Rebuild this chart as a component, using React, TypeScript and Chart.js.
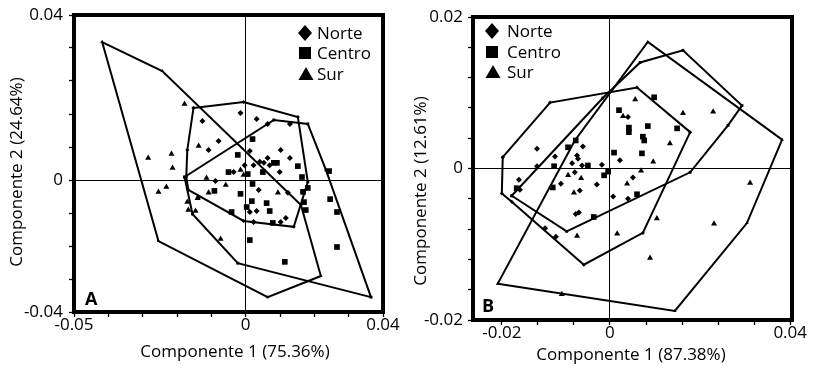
import React, { useEffect, useRef } from 'react';
import { Chart, registerables } from 'chart.js';

Chart.register(...registerables);

type Pt = [number, number];

// ---------------- Panel A data ----------------
const norteA: Pt[] = [
  [-0.0126, 0.0179], [-0.0015, 0.0203], [0.0032, 0.0185], [-0.0079, 0.0118], [-0.0108, 0.0091],
  [0.0012, 0.0088], [0.0064, 0.0067], [0.0102, 0.0091], [0.0129, 0.0067], [0.0064, 0.017],
  [0.0129, 0.017], [-0.0088, -0.0003], [-0.0035, 0.0024], [0.0023, 0.0045], [0.0041, 0.0055],
  [0.0099, 0.0024], [0.0038, -0.003], [0.0032, -0.0094], [0.0012, -0.0097], [0.0102, -0.0127],
  [0.0117, -0.0115], [0.0023, -0.0127], [0.0053, 0.0052], [0.007, 0.0045], [0.0123, -0.0039],
  [-0.0137, -0.0052], [-0.0003, 0.0045],
];
const centroA: Pt[] = [
  [0.002, 0.0124], [-0.0023, 0.0076], [-0.005, 0.0024], [0.0006, 0.0018], [0.005, 0.0024],
  [0.0082, 0.0052], [0.0091, 0.0052], [0.0152, 0.0042], [0.0164, 0.0009], [0.0181, -0.0024],
  [0.0167, -0.0036], [0.017, -0.0067], [0.0175, -0.0091], [0.0243, 0.0027], [0.0246, -0.0058],
  [0.0266, -0.0097], [0.0266, -0.0203], [0.002, -0.0012], [-0.0015, -0.0042], [0.0003, -0.0082],
  [0.0018, -0.0064], [0.0061, -0.007], [0.007, -0.0094], [-0.0041, -0.0097], [0.0012, -0.0182],
  [0.0114, -0.0248], [0.0079, -0.013], [-0.0091, -0.0033],
];
const surA: Pt[] = [
  [-0.0178, 0.023], [-0.0137, 0.0103], [-0.0216, 0.0079], [-0.0284, 0.0067], [-0.0213, 0.0036],
  [-0.0254, -0.0036], [-0.0231, -0.0021], [-0.017, -0.0067], [-0.0167, -0.0091], [-0.0146, -0.0094],
  [-0.0114, 0.0006], [-0.0058, -0.0015], [-0.0015, 0.003], [-0.0006, 0.0015], [0.0094, -0.0039],
  [-0.0073, -0.0179], [-0.014, -0.0055], [-0.0108, -0.0039],
];
const norteHullA: Pt[] = [
  [-0.0152, 0.0218], [-0.0006, 0.0236], [0.0152, 0.0191], [0.0181, -0.0006], [0.014, -0.0142],
  [-0.0006, -0.0124], [-0.0167, -0.003], [-0.0173, 0.0009], [-0.017, 0.0091],
];
const centroHullA: Pt[] = [
  [-0.0178, 0.0009], [0.0082, 0.0182], [0.0181, 0.017], [0.0234, 0.003], [0.0365, -0.0355],
  [-0.0023, -0.0252], [-0.0155, -0.0103],
];
const surHullA: Pt[] = [
  [-0.0418, 0.0418], [-0.0243, 0.033], [0.0161, -0.0076], [0.0219, -0.0291], [0.0064, -0.0355],
  [-0.0254, -0.0185],
];
const xTicksA = [-0.05, -0.04, -0.03, -0.02, -0.01, 0, 0.01, 0.02, 0.03, 0.04];
const xTickLabelsA = ['-0.05', '', '', '', '', '0', '', '', '', '0.04'];
const yTicksA = [-0.04, -0.03, -0.02, -0.01, 0, 0.01, 0.02, 0.03, 0.04, 0.05];
const yTickLabelsA = ['-0.04', '', '', '', '0', '', '', '', '', '0.04'];

// ---------------- Panel B data ----------------
const norteB: Pt[] = [
  [0.004, 0.0068], [-0.0162, 0.0026], [-0.006, 0.0029], [-0.0122, 0.0016], [-0.0073, 0.0017],
  [-0.0071, 0.0013], [-0.0084, 0.0007], [-0.0062, 0.0004], [-0.0078, -0.0005], [-0.0018, 0.0005],
  [0.0022, 0.0011], [0.0051, -0.0012], [0.0007, -0.0037], [0.004, -0.004], [-0.0029, -0.0021],
  [-0.0067, -0.0029], [-0.0109, -0.002], [-0.0076, -0.006], [-0.0069, -0.0058], [-0.0144, -0.0079],
  [-0.012, -0.009], [-0.02, -0.0028], [-0.0202, -0.0015], [-0.0162, 0.0003],
];
const centroB: Pt[] = [
  [0.0098, 0.0094], [0.002, 0.0077], [0.0042, 0.0054], [0.0042, 0.0048], [0.0084, 0.0056],
  [0.0149, 0.0053], [0.0073, 0.0042], [0.0076, 0.0037], [-0.0093, 0.0028], [-0.0076, 0.0037],
  [0.0009, 0.0021], [0.0071, 0.002], [-0.0124, 0.0003], [-0.0049, 0.0004], [-0.0004, -0.0004],
  [-0.0013, -0.0009], [-0.0127, -0.0025], [-0.0207, -0.0026], [-0.0036, -0.0064], [0.006, -0.0034],
];
const surB: Pt[] = [
  [0.0056, 0.0091], [0.0162, 0.0073], [0.0229, 0.0075], [0.0133, 0.0033], [0.0029, 0.0069],
  [-0.0093, -0.0009], [-0.0064, -0.0013], [-0.008, -0.0032], [0.0038, -0.002], [0.0069, -0.0003],
  [0.0096, 0.0009], [0.0104, -0.0066], [0.0231, -0.0073], [0.0311, -0.0019], [0.0089, -0.0118],
  [0.0016, -0.0086], [-0.0073, -0.0089], [-0.0107, -0.0166],
];
const norteHullB: Pt[] = [
  [-0.0238, 0.0015], [-0.0133, 0.0087], [0.006, 0.0107], [0.0178, 0.0048], [0.0073, -0.0085],
  [-0.0058, -0.0127], [-0.0218, -0.0044], [-0.024, -0.0033],
];
const centroHullB: Pt[] = [
  [-0.0218, -0.0036], [-0.0016, 0.0093], [0.0067, 0.014], [0.0162, 0.0156], [0.0293, 0.0083],
  [0.0262, 0.0057], [0.0178, -0.0005], [-0.0096, -0.0083],
];
const surHullB: Pt[] = [
  [-0.0249, -0.0152], [-0.0078, 0.0037], [0.0084, 0.0167], [0.0382, 0.0038], [0.0304, -0.0072],
  [0.0144, -0.0188],
];
const xTicksB = [-0.024, -0.016, -0.008, 0, 0.008, 0.016, 0.024, 0.032, 0.04];
const xTickLabelsB = ['-0.02', '', '', '0', '', '', '', '', '0.04'];
const yTicksB = [-0.02, -0.016, -0.012, -0.008, -0.004, 0, 0.004, 0.008, 0.012, 0.016, 0.02];
const yTickLabelsB = ['-0.02', '', '', '', '', '0', '', '', '', '', '0.02'];

const legendNames = ['Norte', 'Centro', 'Sur'];
const FONT = "'Open Sans', sans-serif";

interface Spec {
  data: { norte: Pt[]; centro: Pt[]; sur: Pt[]; norteHull: Pt[]; centroHull: Pt[]; surHull: Pt[] };
  xMin: number; xMax: number; yMin: number; yMax: number;
  xTicks: number[]; xLabels: string[]; yTicks: number[]; yLabels: string[];
  xTitle: string; yTitle: string; letter: string;
  width: number; left: number;
  padding: { top: number; right: number; left: number; bottom: number };
  yAxisWidth: number; xAxisHeight: number; yTickPad: number;
  legend: { mx: number; tx: number; rows: number[] };
  letterPos: [number, number];
  xTitlePos: [number, number];
  yTitlePos: [number, number];
}

const specA: Spec = {
  data: { norte: norteA, centro: centroA, sur: surA, norteHull: norteHullA, centroHull: centroHullA, surHull: surHullA },
  xMin: -0.05, xMax: 0.04, yMin: -0.04, yMax: 0.05,
  xTicks: xTicksA, xLabels: xTickLabelsA, yTicks: yTicksA, yLabels: yTickLabelsA,
  xTitle: 'Componente 1 (75.36%)', yTitle: 'Componente 2 (24.64%)', letter: 'A',
  width: 410, left: 0,
  padding: { top: 15, right: 27, left: 0, bottom: 0 },
  yAxisWidth: 74, xAxisHeight: 63, yTickPad: 6,
  legend: { mx: 305, tx: 317, rows: [33, 53, 74] },
  letterPos: [85, 305],
  xTitlePos: [235, 352],
  yTitlePos: [17, 172],
};

const specB: Spec = {
  data: { norte: norteB, centro: centroB, sur: surB, norteHull: norteHullB, centroHull: centroHullB, surHull: surHullB },
  xMin: -0.0304, xMax: 0.0404, yMin: -0.02, yMax: 0.02,
  xTicks: xTicksB, xLabels: xTickLabelsB, yTicks: yTicksB, yLabels: yTickLabelsB,
  xTitle: 'Componente 1 (87.38%)', yTitle: 'Componente 2 (12.61%)', letter: 'B',
  width: 415, left: 410,
  padding: { top: 17, right: 33, left: 0, bottom: 0 },
  yAxisWidth: 63, xAxisHeight: 55, yTickPad: 5,
  legend: { mx: 82, tx: 97, rows: [31, 52, 72] },
  letterPos: [72, 312],
  xTitlePos: [221, 355],
  yTitlePos: [11, 191],
};

const toXY = (a: Pt[]) => a.map(([x, y]) => ({ x, y }));
const closed = (a: Pt[]) => toXY([...a, a[0]]);

function decorPlugin(s: Spec) {
  return {
    id: 'decor' + s.letter,
    afterDraw(chart: any) {
      const { ctx, chartArea: a } = chart;
      ctx.save();
      ctx.strokeStyle = '#000';
      ctx.lineWidth = 4;
      ctx.strokeRect(a.left, a.top, a.right - a.left, a.bottom - a.top);
      ctx.fillStyle = '#000';
      // legend
      const { mx, tx, rows } = s.legend;
      ctx.beginPath();
      ctx.moveTo(mx, rows[0] - 8);
      ctx.lineTo(mx + 7, rows[0]);
      ctx.lineTo(mx, rows[0] + 8);
      ctx.lineTo(mx - 7, rows[0]);
      ctx.closePath();
      ctx.fill();
      ctx.fillRect(mx - 6, rows[1] - 6, 12, 12);
      ctx.beginPath();
      ctx.moveTo(mx + 1, rows[2] - 7);
      ctx.lineTo(mx + 8.5, rows[2] + 6);
      ctx.lineTo(mx - 6.5, rows[2] + 6);
      ctx.closePath();
      ctx.fill();
      ctx.font = `17px ${FONT}`;
      ctx.textAlign = 'left';
      ctx.textBaseline = 'alphabetic';
      legendNames.forEach((n, i) => ctx.fillText(n, tx, rows[i] + 6));
      // panel letter
      ctx.font = `bold 18px ${FONT}`;
      ctx.fillText(s.letter, s.letterPos[0], s.letterPos[1]);
      // axis titles
      ctx.font = `17px ${FONT}`;
      ctx.textAlign = 'center';
      ctx.textBaseline = 'middle';
      ctx.fillText(s.xTitle, s.xTitlePos[0], s.xTitlePos[1]);
      ctx.translate(s.yTitlePos[0], s.yTitlePos[1]);
      ctx.rotate(-Math.PI / 2);
      ctx.fillText(s.yTitle, 0, 0);
      ctx.restore();
    },
  };
}

function buildConfig(s: Spec): any {
  const pointDs = (d: Pt[], style: string, r: number) => ({
    data: toXY(d), pointStyle: style, pointRadius: r, backgroundColor: '#000', borderWidth: 0, showLine: false,
  });
  const hullDs = (d: Pt[], style: string) => ({
    data: closed(d), showLine: true, borderColor: '#000', borderWidth: 2, tension: 0, fill: false,
    pointStyle: style, pointRadius: 2, pointBackgroundColor: '#000', pointBorderWidth: 0,
  });
  const gridColor = (c: any) => (c.tick && Math.abs(c.tick.value) < 1e-9 ? '#000' : 'rgba(0,0,0,0)');
  const tickFont = { family: FONT, size: 17, lineHeight: 1 };
  return {
    type: 'scatter',
    data: {
      datasets: [
        pointDs(s.data.norte, 'rectRot', 3),
        pointDs(s.data.centro, 'rect', 4),
        pointDs(s.data.sur, 'triangle', 3.5),
        hullDs(s.data.norteHull, 'rectRot'),
        hullDs(s.data.centroHull, 'rect'),
        hullDs(s.data.surHull, 'triangle'),
      ],
    },
    options: {
      responsive: false,
      animation: false,
      events: [],
      layout: { padding: s.padding },
      plugins: { legend: { display: false }, tooltip: { enabled: false } },
      scales: {
        x: {
          type: 'linear', min: s.xMin, max: s.xMax,
          afterBuildTicks: (ax: any) => { ax.ticks = s.xTicks.map((v) => ({ value: v })); },
          afterFit: (ax: any) => { ax.height = s.xAxisHeight; },
          ticks: {
            autoSkip: false, maxRotation: 0, minRotation: 0, padding: 0, color: '#000', font: tickFont,
            callback: (_v: any, i: number) => s.xLabels[i] ?? '',
          },
          grid: { color: gridColor, lineWidth: 1, tickLength: 5, tickColor: '#000', tickWidth: 1.3, drawTicks: true },
          border: { display: false },
        },
        y: {
          type: 'linear', min: s.yMin, max: s.yMax,
          afterBuildTicks: (ax: any) => { ax.ticks = s.yTicks.map((v) => ({ value: v })); },
          afterFit: (ax: any) => { ax.width = s.yAxisWidth; },
          ticks: {
            autoSkip: false, padding: s.yTickPad, color: '#000', font: tickFont,
            callback: (_v: any, i: number) => s.yLabels[i] ?? '',
          },
          grid: { color: gridColor, lineWidth: 1, tickLength: 5, tickColor: '#000', tickWidth: 1.3, drawTicks: true },
          border: { display: false },
        },
      },
    },
    plugins: [decorPlugin(s)],
  };
}

function Panel({ spec }: { spec: Spec }) {
  const ref = useRef<HTMLCanvasElement>(null);
  useEffect(() => {
    const chart = new Chart(ref.current as HTMLCanvasElement, buildConfig(spec));
    return () => chart.destroy();
  }, [spec]);
  return (
    <canvas
      ref={ref}
      width={spec.width}
      height={375}
      style={{ position: 'absolute', left: spec.left, top: 0, width: spec.width, height: 375 }}
    />
  );
}

export default function App() {
  return (
    <div style={{ position: 'fixed', left: 0, top: 0, width: 825, height: 375, background: '#fff', overflow: 'hidden' }}>
      <Panel spec={specA} />
      <Panel spec={specB} />
    </div>
  );
}
